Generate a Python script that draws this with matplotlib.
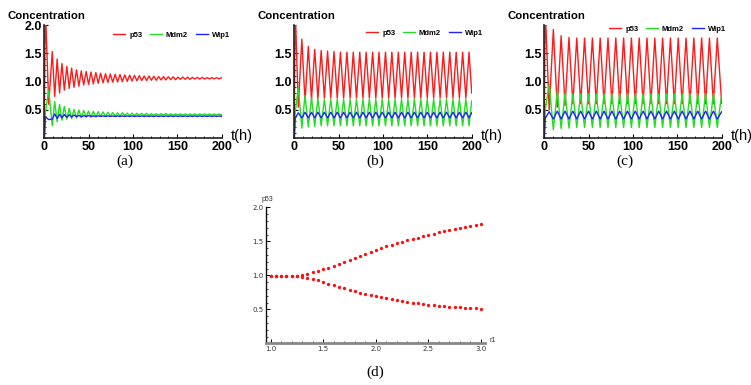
import numpy as np
import matplotlib
matplotlib.use('Agg')
import matplotlib.pyplot as plt
from matplotlib.ticker import MultipleLocator, FixedLocator

# ---- panel (a): damped oscillation, extrema ----
t_start_a = [0.0, 1.2, 5.0]
p53_start_a = [0.3, 2.3, 0.6]
mdm2_start_a = [0.0, 0.45, 0.85]
wip1_start_a = [0.0, 0.38, 0.33]
t_peak_a = [9.0, 14.5, 19.9, 25.4, 30.8, 36.3, 41.7, 47.2, 52.6, 58.1, 63.5, 69.0,
            74.4, 79.9, 85.3, 90.8, 96.2, 101.7, 107.1, 112.6, 118.0, 123.5, 128.9,
            134.4, 139.8, 145.3, 150.7, 156.2, 161.6, 167.1, 172.5, 178.0, 183.4,
            188.9, 194.3, 199.8]
t_trough_a = [11.7, 17.2, 22.6, 28.1, 33.5, 39.0, 44.4, 49.9, 55.3, 60.8, 66.2, 71.7,
              77.1, 82.6, 88.0, 93.5, 98.9, 104.4, 109.8, 115.3, 120.7, 126.2, 131.6,
              137.1, 142.5, 148.0, 153.4, 158.9, 164.3, 169.8, 175.2, 180.7, 186.1,
              191.6, 197.0]
p53_hi_a = [1.53, 1.40, 1.32, 1.27, 1.24, 1.21, 1.19, 1.18, 1.17, 1.16, 1.15, 1.14,
            1.135, 1.13, 1.125, 1.12, 1.115, 1.11, 1.105, 1.10, 1.10, 1.095, 1.09, 1.09,
            1.085, 1.085, 1.08, 1.08, 1.08, 1.075, 1.075, 1.075, 1.07, 1.07, 1.07, 1.07]
p53_lo_a = [0.74, 0.80, 0.85, 0.88, 0.90, 0.92, 0.94, 0.95, 0.96, 0.97, 0.98, 0.985,
            0.99, 0.995, 1.0, 1.005, 1.01, 1.015, 1.02, 1.02, 1.025, 1.025, 1.03, 1.03,
            1.035, 1.035, 1.04, 1.04, 1.04, 1.045, 1.045, 1.045, 1.05, 1.05, 1.05]
mdm2_at_peak_a = [0.22, 0.29, 0.32, 0.335, 0.35, 0.36, 0.365, 0.37, 0.375, 0.38, 0.385,
                  0.39, 0.39, 0.395, 0.395, 0.40, 0.40, 0.40, 0.405, 0.405, 0.405,
                  0.405] + [0.41] * 14
mdm2_at_trough_a = [0.65, 0.60, 0.56, 0.53, 0.51, 0.50, 0.49, 0.48, 0.475, 0.47, 0.465,
                    0.46, 0.455, 0.45, 0.45, 0.445, 0.445, 0.44, 0.44, 0.44, 0.435,
                    0.435, 0.435, 0.435] + [0.43] * 11
wip1_at_peak_a = [0.34, 0.35, 0.36, 0.37, 0.375, 0.38, 0.38, 0.385] + [0.385] * 28
wip1_at_trough_a = [0.43, 0.425, 0.42, 0.415, 0.41, 0.405, 0.40, 0.40] + [0.395] * 27
end_a = [1.07, 0.41, 0.39]

# ---- panel (b): sustained oscillation ----
t_start_b = [0.0, 1.0, 4.5]
p53_start_b = [0.3, 2.3, 0.55]
mdm2_start_b = [0.0, 0.45, 0.9]
wip1_start_b = [0.0, 0.35, 0.45]
t_peak_b = [8.5, 15.8, 23.0, 30.3, 37.5, 44.8, 52.0, 59.3, 66.5, 73.8, 81.0, 88.3, 95.5,
            102.8, 110.0, 117.3, 124.5, 131.8, 139.0, 146.3, 153.5, 160.8, 168.0, 175.3,
            182.5, 189.8, 197.0]
t_trough_b = [12.1, 19.4, 26.6, 33.9, 41.1, 48.4, 55.6, 62.9, 70.1, 77.4, 84.6, 91.9,
              99.1, 106.4, 113.6, 120.9, 128.1, 135.4, 142.6, 149.9, 157.1, 164.4,
              171.6, 178.9, 186.1, 193.4]
p53_hi_b = [1.75, 1.62, 1.57, 1.55, 1.54, 1.53] + [1.52] * 21
p53_lo_b = [0.64, 0.68, 0.70] + [0.71] * 23
mdm2_at_peak_b = [0.18, 0.20, 0.21] + [0.22] * 24
mdm2_at_trough_b = [0.76, 0.72, 0.70] + [0.69] * 23
wip1_at_peak_b = [0.36] * 27
wip1_at_trough_b = [0.46] * 26
end_b = [0.80, 0.66, 0.45]

# ---- panel (c): larger sustained oscillation ----
t_start_c = [0.0, 1.0, 5.5]
p53_start_c = [0.3, 2.3, 0.5]
mdm2_start_c = [0.0, 0.5, 0.95]
wip1_start_c = [0.0, 0.35, 0.47]
t_peak_c = [10.2, 19.0, 27.8, 36.6, 45.4, 54.2, 63.0, 71.8, 80.6, 89.4, 98.2, 107.0,
            115.8, 124.6, 133.4, 142.2, 151.0, 159.8, 168.6, 177.4, 186.2, 195.0]
t_trough_c = [14.6, 23.4, 32.2, 41.0, 49.8, 58.6, 67.4, 76.2, 85.0, 93.8, 102.6, 111.4,
              120.2, 129.0, 137.8, 146.6, 155.4, 164.2, 173.0, 181.8, 190.6]
p53_hi_c = [1.92, 1.81, 1.78] + [1.77] * 19
p53_lo_c = [0.55, 0.58] + [0.61] * 19
mdm2_at_peak_c = [0.15, 0.17, 0.18] + [0.19] * 19
mdm2_at_trough_c = [0.83, 0.80] + [0.79] * 19
wip1_at_peak_c = [0.34] * 22
wip1_at_trough_c = [0.48] * 21
end_c = [0.62, 0.78, 0.47]

# ---- panel (d): bifurcation diagram ----
r1_vals = [1.0, 1.05, 1.1, 1.15, 1.2, 1.25, 1.3, 1.35, 1.4, 1.45, 1.5, 1.55, 1.6, 1.65,
           1.7, 1.75, 1.8, 1.85, 1.9, 1.95, 2.0, 2.05, 2.1, 2.15, 2.2, 2.25, 2.3, 2.35,
           2.4, 2.45, 2.5, 2.55, 2.6, 2.65, 2.7, 2.75, 2.8, 2.85, 2.9, 2.95, 3.0]
p53_max_d = [0.99] * 6 + [1.01, 1.025, 1.045, 1.065, 1.09, 1.115, 1.14, 1.17, 1.20, 1.23,
                          1.26, 1.29, 1.32, 1.35, 1.375, 1.40, 1.425, 1.45, 1.47, 1.49,
                          1.515, 1.535, 1.555, 1.575, 1.595, 1.61, 1.63, 1.645, 1.665,
                          1.68, 1.70, 1.715, 1.73, 1.745, 1.76]
p53_min_d = [0.99] * 6 + [0.975, 0.96, 0.945, 0.93, 0.905, 0.88, 0.855, 0.83, 0.81, 0.785,
                          0.765, 0.745, 0.73, 0.71, 0.695, 0.68, 0.665, 0.65, 0.635, 0.62,
                          0.61, 0.60, 0.59, 0.58, 0.57, 0.56, 0.555, 0.545, 0.54, 0.535,
                          0.53, 0.525, 0.52, 0.515, 0.51]

W, H = 751, 385
fig = plt.figure(figsize=(W / 100, H / 100), dpi=100)
SANS = 'Liberation Sans'
SERIF = 'Liberation Serif'


def px_axes(left, top, right, bottom):
    return fig.add_axes([left / W, 1 - bottom / H, (right - left) / W, (bottom - top) / H])


def series(t_start, v_start, t_pk, v_pk, t_tr, v_tr, v_end):
    t = np.array(list(t_start) + list(t_pk) + list(t_tr) + [200.0])
    v = np.array(list(v_start) + list(v_pk) + list(v_tr) + [v_end])
    order = np.argsort(t)
    return t[order], v[order]


panels = [
    (44.3, 'a', t_start_a, t_peak_a, t_trough_a,
     (p53_start_a, p53_hi_a, p53_lo_a), (mdm2_start_a, mdm2_at_peak_a, mdm2_at_trough_a),
     (wip1_start_a, wip1_at_peak_a, wip1_at_trough_a), end_a, 113, 35),
    (294.3, 'b', t_start_b, t_peak_b, t_trough_b,
     (p53_start_b, p53_hi_b, p53_lo_b), (mdm2_start_b, mdm2_at_peak_b, mdm2_at_trough_b),
     (wip1_start_b, wip1_at_peak_b, wip1_at_trough_b), end_b, 366, 33),
    (544.3, 'c', t_start_c, t_peak_c, t_trough_c,
     (p53_start_c, p53_hi_c, p53_lo_c), (mdm2_start_c, mdm2_at_peak_c, mdm2_at_trough_c),
     (wip1_start_c, wip1_at_peak_c, wip1_at_trough_c), end_c, 609, 29),
]
colors = ['#ff1a1a', '#22dd22', '#2222ff']
names = ['p53', 'Mdm2', 'Wip1']

for left, tag, ts, tp, tt, p53, mdm2, wip1, end, leg_x, leg_y in panels:
    ax = px_axes(left, 25, left + 177.4, 138.3)
    lines = []
    for (vs, vp, vt), col, nm, ve in zip([p53, mdm2, wip1], colors, names, end):
        t, v = series(ts, vs, tp, vp, tt, vt, ve)
        ln, = ax.plot(t, v, color=col, lw=1.0, label=nm)
        lines.append(ln)
    ax.set_xlim(0, 200)
    ax.set_ylim(0, 2.0)
    for s in ['top', 'right']:
        ax.spines[s].set_visible(False)
    for s in ['left', 'bottom']:
        ax.spines[s].set_linewidth(1.2)
        ax.spines[s].set_color('#222222')
    ax.xaxis.set_major_locator(FixedLocator([0, 50, 100, 150, 200]))
    ax.xaxis.set_minor_locator(MultipleLocator(10))
    if tag == 'a':
        yt = [0.5, 1.0, 1.5, 2.0]
    else:
        yt = [0.5, 1.0, 1.5]
    ax.yaxis.set_major_locator(FixedLocator(yt))
    ax.yaxis.set_minor_locator(MultipleLocator(0.1))
    ax.tick_params(which='major', direction='in', length=3, width=0.8, pad=2,
                   labelsize=9)
    ax.tick_params(which='minor', direction='in', length=1.5, width=0.6)
    ax.set_xticklabels(['0', '50', '100', '150', '200'])
    ax.set_yticklabels(['%.1f' % v for v in yt])
    for lab in ax.get_xticklabels() + ax.get_yticklabels():
        lab.set_fontfamily(SANS)
        lab.set_fontweight('bold')
    fig.text((left - 37) / W, 1 - 16 / H, 'Concentration', fontsize=8.2,
             fontweight='bold', family=SANS, va='center', ha='left')
    fig.text((left + 186) / W, 1 - 136 / H, 't(h)', fontsize=10.5, family=SANS,
             va='center', ha='left')
    fig.text((left + 81) / W, 1 - 161 / H, '(%s)' % tag, fontsize=11, family=SERIF,
             ha='center', va='center')
    ax.legend(handles=lines, loc='center left', bbox_to_anchor=(leg_x / W, 1 - leg_y / H),
              bbox_transform=fig.transFigure, ncol=3, frameon=False,
              prop={'family': SANS, 'weight': 'bold', 'size': 5.5},
              handlelength=1.6, handletextpad=0.5, columnspacing=1.0, borderpad=0,
              borderaxespad=0)

# ---- panel (d) ----
axd = px_axes(266, 207.3, 485, 343.4)
axd.plot(r1_vals, p53_max_d, 'o', color='#ff1010', ms=2.4, mew=0)
axd.plot(r1_vals, p53_min_d, 'o', color='#ff1010', ms=2.4, mew=0)
axd.set_xlim(0.955, 3.04)
axd.set_ylim(0, 2.0)
for s in ['top', 'right']:
    axd.spines[s].set_visible(False)
axd.spines['left'].set_linewidth(1.0)
axd.spines['left'].set_color('#111111')
axd.spines['bottom'].set_linewidth(2.0)
axd.spines['bottom'].set_color('#888888')
axd.xaxis.set_major_locator(FixedLocator([1.0, 1.5, 2.0, 2.5, 3.0]))
axd.xaxis.set_minor_locator(MultipleLocator(0.1))
axd.yaxis.set_major_locator(FixedLocator([0.5, 1.0, 1.5, 2.0]))
axd.yaxis.set_minor_locator(MultipleLocator(0.1))
axd.tick_params(which='major', direction='in', length=3, width=0.7, pad=2,
                labelsize=5, labelcolor='#333333')
axd.tick_params(which='minor', direction='in', length=1.5, width=0.5)
axd.set_xticklabels(['1.0', '1.5', '2.0', '2.5', '3.0'])
axd.set_yticklabels(['0.5', '1.0', '1.5', '2.0'])
fig.text(262 / W, 1 - 200 / H, 'p53', fontsize=5, family=SANS, color='#333333',
         va='center', ha='left')
fig.text(489 / W, 1 - 341 / H, 'r1', fontsize=5, family=SANS, color='#333333',
         va='center', ha='left')
fig.text(375 / W, 1 - 372 / H, '(d)', fontsize=11, family=SERIF, ha='center',
         va='center')

fig.savefig('out.png', dpi=100)
